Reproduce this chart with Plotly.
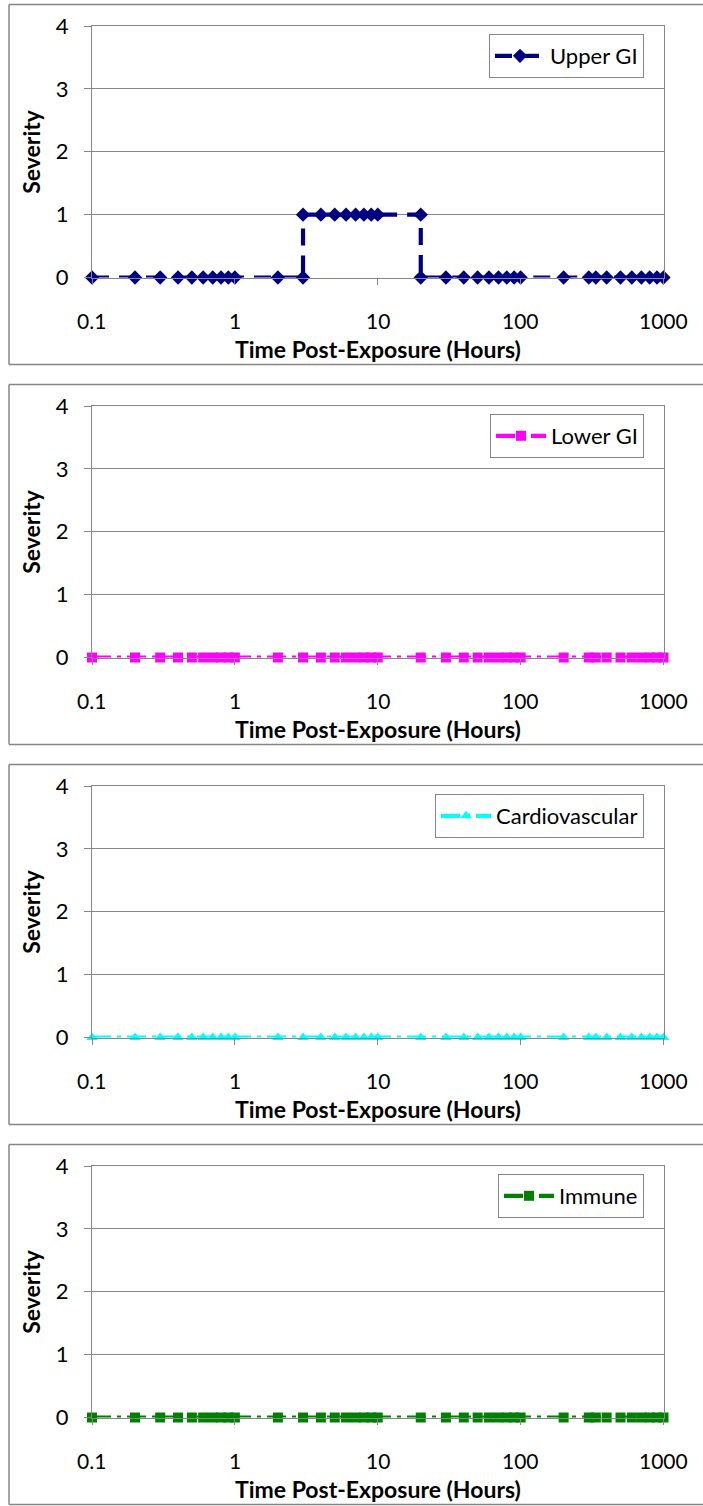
import math
import plotly.graph_objects as go

# Sampling times (hours after exposure)
hours = [0.1, 0.2, 0.3, 0.4, 0.5, 0.6, 0.7, 0.8, 0.9, 1,
         2, 3, 4, 5, 6, 7, 8, 9, 10,
         20, 30, 40, 50, 60, 70, 80, 90, 100,
         200, 300, 336, 400, 500, 600, 700, 800, 900, 1000]

# Upper GI is a step: severity 1 between 3 h and 20 h
upper_gi_hours = [0.1, 0.2, 0.3, 0.4, 0.5, 0.6, 0.7, 0.8, 0.9, 1,
                  2, 3, 3, 4, 5, 6, 7, 8, 9, 10, 20, 20,
                  30, 40, 50, 60, 70, 80, 90, 100,
                  200, 300, 336, 400, 500, 600, 700, 800, 900, 1000]
upper_gi = [0, 0, 0, 0, 0, 0, 0, 0, 0, 0,
            0, 0, 1, 1, 1, 1, 1, 1, 1, 1, 1, 0,
            0, 0, 0, 0, 0, 0, 0, 0,
            0, 0, 0, 0, 0, 0, 0, 0, 0, 0]

lower_gi = [0, 0, 0, 0, 0, 0, 0, 0, 0, 0,
            0, 0, 0, 0, 0, 0, 0, 0, 0,
            0, 0, 0, 0, 0, 0, 0, 0, 0,
            0, 0, 0, 0, 0, 0, 0, 0, 0, 0]
cardiovascular = [0, 0, 0, 0, 0, 0, 0, 0, 0, 0,
                  0, 0, 0, 0, 0, 0, 0, 0, 0,
                  0, 0, 0, 0, 0, 0, 0, 0, 0,
                  0, 0, 0, 0, 0, 0, 0, 0, 0, 0]
immune = [0, 0, 0, 0, 0, 0, 0, 0, 0, 0,
          0, 0, 0, 0, 0, 0, 0, 0, 0,
          0, 0, 0, 0, 0, 0, 0, 0, 0,
          0, 0, 0, 0, 0, 0, 0, 0, 0, 0]

x_tick_vals = [0.1, 1, 10, 100, 1000]
x_tick_text = ["0.1", "1", "10", "100", "1000"]
y_tick_vals = [0, 1, 2, 3, 4]

W, H = 703, 1506
FONT = "Lato"
GRID = "#868686"

panels = [
    dict(name="Upper GI", x=upper_gi_hours, y=upper_gi, color="#000080",
         symbol="diamond", size=11, dash="17px,10px"),
    dict(name="Lower GI", x=hours, y=lower_gi, color="#FF00FF",
         symbol="square", size=10, dash="19px,6px,4px,6px"),
    dict(name="Cardiovascular", x=hours, y=cardiovascular, color="#00FFFF",
         symbol="triangle-up", size=10, dash="19px,6px,4px,6px"),
    dict(name="Immune", x=hours, y=immune, color="#008000",
         symbol="square", size=10, dash="19px,6px,4px,6px"),
]

# layout geometry in pixels (each chart repeats every STEP pixels)
STEP = 380
PLOT_L, PLOT_R = 92.0, 663.5
PLOT_T, PLOT_B = 26.0, 277.5
FRAME_L, FRAME_T, FRAME_B = 9.0, 4.5, 364.5
LEGEND_R, LEGEND_T = 644.0, 34.0
XLABEL_Y, XTITLE_Y = 320.0, 349.0
YTITLE_X = 31.0

fig = go.Figure()
shapes = []
annotations = []
layout = {}

for k, p in enumerate(panels):
    off = STEP * k
    top_px, bot_px = PLOT_T + off, PLOT_B + off
    ax = "" if k == 0 else str(k + 1)
    leg = "legend" if k == 0 else f"legend{k + 1}"

    fig.add_trace(go.Scatter(
        x=p["x"], y=p["y"], name=p["name"], mode="lines+markers",
        line=dict(color=p["color"], width=4.2, dash=p["dash"]),
        marker=dict(symbol=p["symbol"], size=p["size"], color=p["color"]),
        xaxis="x" + ax, yaxis="y" + ax, legend=leg, cliponaxis=False,
        showlegend=True,
    ))

    layout["xaxis" + ax] = dict(
        type="log", range=[-1, 3], domain=[PLOT_L / W, PLOT_R / W],
        anchor="y" + ax, tickvals=x_tick_vals, showticklabels=False,
        showgrid=False, zeroline=False, showline=True, linecolor=GRID,
        linewidth=1, mirror=True, ticks="outside", ticklen=6, tickcolor=GRID,
        automargin=False,
    )
    layout["yaxis" + ax] = dict(
        range=[0, 4], domain=[1 - bot_px / H, 1 - top_px / H],
        anchor="x" + ax, tickvals=y_tick_vals, showgrid=True,
        gridcolor=GRID, gridwidth=1, zeroline=False, showline=True,
        linecolor=GRID, linewidth=1, mirror=True, ticks="outside",
        ticklen=7, tickcolor=GRID, ticklabelstandoff=11, automargin=False,
        tickfont=dict(family=FONT, size=22, color="#000000"),
    )

    # x tick labels placed under each decade tick
    for val, txt in zip(x_tick_vals, x_tick_text):
        annotations.append(dict(
            text=txt, xref="x" + ax, yref="paper", x=math.log10(val),
            y=1 - (XLABEL_Y + off) / H, xanchor="center", yanchor="middle",
            showarrow=False, font=dict(family=FONT, size=21, color="#000000"),
        ))

    layout[leg] = dict(
        x=LEGEND_R / W, xanchor="right", y=1 - (LEGEND_T + off) / H,
        yanchor="top", bgcolor="#FFFFFF", bordercolor=GRID, borderwidth=1,
        font=dict(family=FONT, size=22, color="#000000"),
        itemwidth=50, tracegroupgap=0,
    )

    # chart frame: top, left and bottom edges (the right edge runs off the page)
    ft = 1 - (FRAME_T + off) / H
    fb = 1 - min(H - 0.75, FRAME_B + off) / H
    fl = FRAME_L / W
    for (xa, ya, xb, yb) in [(fl, ft, 1, ft), (fl, fb, 1, fb), (fl, fb, fl, ft)]:
        shapes.append(dict(type="line", xref="paper", yref="paper",
                           x0=xa, y0=ya, x1=xb, y1=yb,
                           line=dict(color=GRID, width=1.5)))

    annotations.append(dict(
        text="<b>Time Post-Exposure (Hours)</b>", xref="paper", yref="paper",
        x=(PLOT_L + PLOT_R) / 2 / W, y=1 - (XTITLE_Y + off) / H,
        xanchor="center", yanchor="middle", showarrow=False,
        font=dict(family=FONT, size=23, color="#000000"),
    ))
    annotations.append(dict(
        text="<b>Severity</b>", xref="paper", yref="paper",
        x=YTITLE_X / W, y=1 - ((top_px + bot_px) / 2) / H, textangle=-90,
        xanchor="center", yanchor="middle", showarrow=False,
        font=dict(family=FONT, size=23, color="#000000"),
    ))

fig.update_layout(
    width=W, height=H,
    margin=dict(l=0, r=0, t=0, b=0, autoexpand=False),
    paper_bgcolor="#FFFFFF", plot_bgcolor="#FFFFFF",
    shapes=shapes, annotations=annotations, **layout,
)

fig.write_html("out.html")
